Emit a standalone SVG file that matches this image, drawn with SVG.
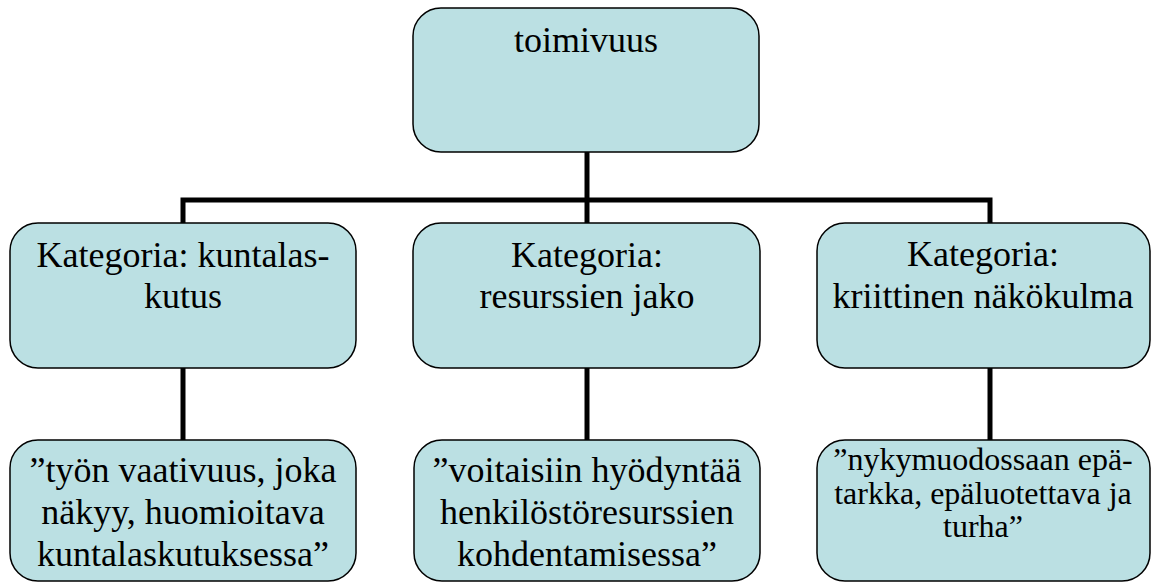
<svg xmlns="http://www.w3.org/2000/svg" width="1152" height="583" viewBox="0 0 1152 583">
<rect width="1152" height="583" fill="#ffffff"/>
<g id="connectors" fill="none" stroke="#000000" stroke-width="5">
<path d="M587 152V223"/>
<path d="M183 223V200H990V223"/>
<path d="M183 368V440"/>
<path d="M587 368V440"/>
<path d="M990 368V440"/>
</g>
<g id="n-top">
<rect x="413" y="8" width="346" height="144" rx="28" fill="#bbe0e3" stroke="#000000" stroke-width="1.5"/>
<text x="586" y="52" font-family="Liberation Serif" font-size="36" text-anchor="middle">toimivuus</text>
</g>
<g id="n-cat1">
<rect x="10" y="223" width="346" height="145" rx="28" fill="#bbe0e3" stroke="#000000" stroke-width="1.5"/>
<text x="183" y="267" font-family="Liberation Serif" font-size="36" text-anchor="middle">Kategoria: kuntalas-</text>
<text x="183" y="308" font-family="Liberation Serif" font-size="36" text-anchor="middle">kutus</text>
</g>
<g id="n-cat2">
<rect x="413" y="223" width="347" height="145" rx="28" fill="#bbe0e3" stroke="#000000" stroke-width="1.5"/>
<text x="587" y="267" font-family="Liberation Serif" font-size="36" text-anchor="middle">Kategoria:</text>
<text x="587" y="308" font-family="Liberation Serif" font-size="36" text-anchor="middle">resurssien jako</text>
</g>
<g id="n-cat3">
<rect x="817" y="223" width="333" height="145" rx="28" fill="#bbe0e3" stroke="#000000" stroke-width="1.5"/>
<text x="983" y="266" font-family="Liberation Serif" font-size="36" text-anchor="middle">Kategoria:</text>
<text x="983" y="308" font-family="Liberation Serif" font-size="36" text-anchor="middle">kriittinen n&#228;k&#246;kulma</text>
</g>
<g id="n-q1">
<rect x="10" y="440" width="346" height="141" rx="28" fill="#bbe0e3" stroke="#000000" stroke-width="1.5"/>
<text x="183" y="482" font-family="Liberation Serif" font-size="36" text-anchor="middle">&#8221;ty&#246;n vaativuus, joka</text>
<text x="183" y="524" font-family="Liberation Serif" font-size="36" text-anchor="middle">n&#228;kyy, huomioitava</text>
<text x="183" y="566" font-family="Liberation Serif" font-size="36" text-anchor="middle">kuntalaskutuksessa&#8221;</text>
</g>
<g id="n-q2">
<rect x="414" y="440" width="346" height="141" rx="28" fill="#bbe0e3" stroke="#000000" stroke-width="1.5"/>
<text x="587" y="482" font-family="Liberation Serif" font-size="36" text-anchor="middle">&#8221;voitaisiin hy&#246;dynt&#228;&#228;</text>
<text x="587" y="524" font-family="Liberation Serif" font-size="36" text-anchor="middle">henkil&#246;st&#246;resurssien</text>
<text x="587" y="566" font-family="Liberation Serif" font-size="36" text-anchor="middle">kohdentamisessa&#8221;</text>
</g>
<g id="n-q3">
<rect x="817" y="440" width="333" height="141" rx="28" fill="#bbe0e3" stroke="#000000" stroke-width="1.5"/>
<text x="983" y="470" font-family="Liberation Serif" font-size="32" text-anchor="middle">&#8221;nykymuodossaan ep&#228;-</text>
<text x="983" y="504" font-family="Liberation Serif" font-size="32" text-anchor="middle">tarkka, ep&#228;luotettava ja</text>
<text x="983" y="537" font-family="Liberation Serif" font-size="32" text-anchor="middle">turha&#8221;</text>
</g>
</svg>
